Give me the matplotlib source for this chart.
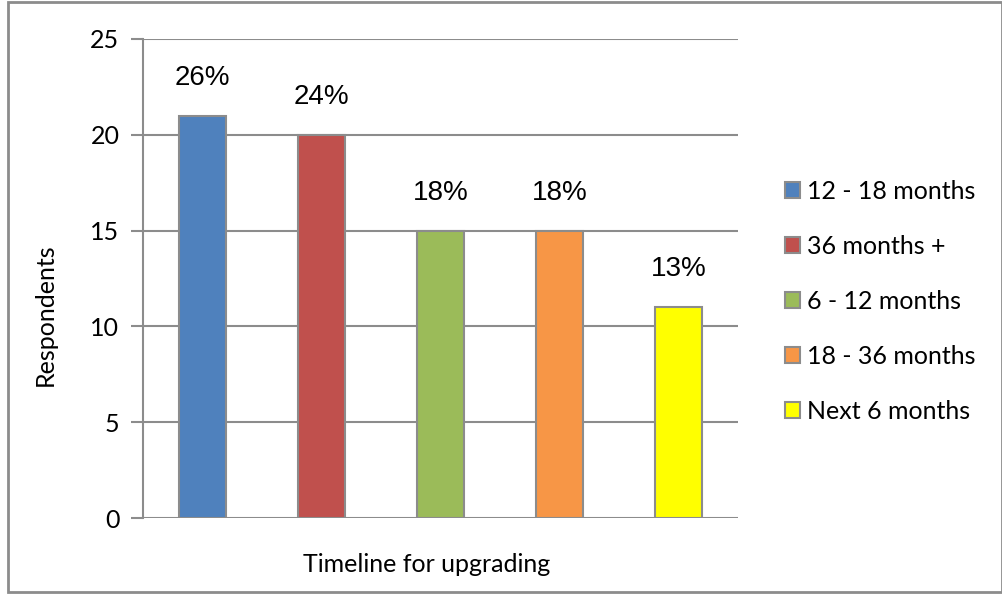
import matplotlib
matplotlib.use("Agg")
import matplotlib.pyplot as plt
from matplotlib.patches import Rectangle

categories = ["12 - 18 months", "36 months +", "6 - 12 months", "18 - 36 months", "Next 6 months"]
respondents = [21, 20, 15, 15, 11]
pct_labels = ["26%", "24%", "18%", "18%", "13%"]
colors = ["#4F81BD", "#C0504D", "#9BBB59", "#F79646", "#FFFF00"]
yticks = [0, 5, 10, 15, 20, 25]

W, H = 1003, 594
fig = plt.figure(figsize=(W / 100, H / 100), dpi=100)
fig.patch.set_facecolor("white")

# outer chart border
fig.patches.append(Rectangle((8 / W, 2 / H), (1002 - 8) / W, (592 - 2) / H,
                             transform=fig.transFigure, fill=False,
                             edgecolor="#8C8C8C", linewidth=2, zorder=0))

ax = fig.add_axes([143 / W, 1 - 518 / H, (738 - 143) / W, (518 - 39) / H])
grid_c = "#8C8C8C"
x = list(range(len(categories)))
bars = ax.bar(x, respondents, width=0.4, color=colors, edgecolor=grid_c,
              linewidth=1.5, zorder=3)

ax.set_xlim(-0.5, len(categories) - 0.5)
ax.set_ylim(0, 25)
ax.set_yticks(yticks)
ax.set_yticklabels([str(v) for v in yticks], fontfamily="Lato", fontsize=18)
ax.set_xticks([])
for v in yticks:
    ax.axhline(v, color=grid_c, linewidth=1.5, zorder=1)
for s in ["top", "right", "bottom"]:
    ax.spines[s].set_visible(False)
ax.spines["left"].set_color(grid_c)
ax.spines["left"].set_linewidth(1.5)
ax.tick_params(axis="y", length=9, width=1.5, color=grid_c, pad=8)

for xi, v, lab in zip(x, respondents, pct_labels):
    ax.annotate(lab, (xi, v), xytext=(0, 18), textcoords="offset points",
                ha="center", va="bottom", fontsize=20, fontfamily="Liberation Sans")

ax.set_ylabel("Respondents", fontfamily="Lato", fontsize=18)
ax.yaxis.set_label_coords(-0.145, 0.424)
ax.set_xlabel("Timeline for upgrading", fontfamily="Lato", fontsize=18)
ax.xaxis.set_label_coords(0.477, -0.074)

leg = fig.legend(bars, categories, loc="upper left",
                 bbox_to_anchor=(785 / W, 1 - 180 / H), frameon=False,
                 prop={"family": "Lato", "size": 18}, handlelength=0.62,
                 handleheight=0.62, handletextpad=0.27, labelspacing=1.28,
                 borderaxespad=0, borderpad=0)

fig.savefig("out.png", dpi=100)
